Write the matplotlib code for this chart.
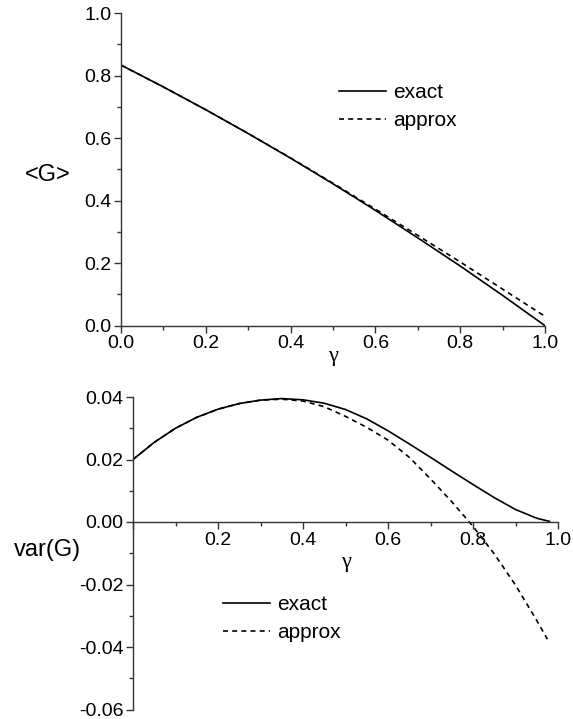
import numpy as np
import matplotlib
matplotlib.use("Agg")
import matplotlib.pyplot as plt
from matplotlib.ticker import MultipleLocator

plt.rcParams["font.family"] = ["Liberation Sans", "DejaVu Sans"]

# top panel: mean of G
gamma_mean = [0.0, 0.1, 0.2, 0.3, 0.4, 0.5, 0.6, 0.7, 0.8, 0.9, 1.0]
mean_exact = [0.834, 0.764, 0.691, 0.615, 0.536, 0.454, 0.369, 0.281, 0.191, 0.097, 0.0]
mean_approx = [0.834, 0.764, 0.691, 0.615, 0.537, 0.456, 0.373, 0.289, 0.204, 0.117, 0.030]

# bottom panel: variance of G
gamma_exact = [0.0, 0.05, 0.10, 0.15, 0.20, 0.25, 0.30, 0.35, 0.40, 0.45, 0.50,
               0.55, 0.60, 0.65, 0.70, 0.75, 0.80, 0.85, 0.90, 0.95, 0.98]
var_exact = [0.0200, 0.0255, 0.0300, 0.0335, 0.0361, 0.0379, 0.0390, 0.0395, 0.0391, 0.0380, 0.0360,
             0.0330, 0.0292, 0.0250, 0.0207, 0.0163, 0.0120, 0.0078, 0.0040, 0.0012, 0.0002]
gamma_approx = [0.0, 0.05, 0.10, 0.15, 0.20, 0.25, 0.30, 0.35, 0.40, 0.45, 0.50,
                0.55, 0.60, 0.65, 0.70, 0.75, 0.80, 0.85, 0.90, 0.95, 0.975]
var_approx = [0.0200, 0.0255, 0.0300, 0.0335, 0.0361, 0.0379, 0.0390, 0.0393, 0.0387, 0.0369, 0.0338,
              0.0303, 0.0262, 0.0207, 0.0138, 0.0065, -0.0014, -0.0102, -0.0202, -0.0315, -0.0375]

W, H = 573, 719
fig = plt.figure(figsize=(W / 100, H / 100), dpi=100)

spine_col = "#333333"
dash = (0, (3, 2.5))
serif = ["Liberation Serif", "DejaVu Serif"]


def style_axes(ax):
    for s in ["top", "right"]:
        ax.spines[s].set_visible(False)
    for s in ["left", "bottom"]:
        ax.spines[s].set_color(spine_col)
        ax.spines[s].set_linewidth(1.0)
    ax.tick_params(which="both", direction="out", colors=spine_col, labelcolor="black",
                   labelsize=14, width=1.0)
    ax.tick_params(which="major", length=5, pad=2)
    ax.tick_params(which="minor", length=3)


def add_legend(ax, x, y):
    ax.legend(loc="upper left", bbox_to_anchor=(x / W, 1 - y / H), bbox_transform=fig.transFigure,
              frameon=False, fontsize=15, handlelength=2.25, handletextpad=0.35,
              labelspacing=0.45, borderpad=0, borderaxespad=0)


# top axes
ax1 = fig.add_axes([121 / W, 1 - 325.7 / H, 424 / W, 312.5 / H])
ax1.plot(gamma_mean, mean_exact, color="black", lw=1.2, label="exact")
ax1.plot(gamma_mean, mean_approx, color="black", lw=1.2, ls=dash, label="approx")
ax1.set_xlim(0, 1)
ax1.set_ylim(0, 1)
ax1.xaxis.set_major_locator(MultipleLocator(0.2))
ax1.xaxis.set_minor_locator(MultipleLocator(0.1))
ax1.yaxis.set_major_locator(MultipleLocator(0.2))
ax1.yaxis.set_minor_locator(MultipleLocator(0.1))
ax1.xaxis.set_major_formatter(lambda v, p: f"{v:.1f}")
ax1.yaxis.set_major_formatter(lambda v, p: f"{v:.1f}")
style_axes(ax1)
ax1.set_xlabel("γ", family=serif, fontsize=16, labelpad=-4)
ax1.set_ylabel("<G>", fontsize=17, rotation=0, va="center", ha="center")
ax1.yaxis.set_label_coords(-0.172, 0.482)
add_legend(ax1, 339, 83)

# bottom axes
ax2 = fig.add_axes([133 / W, 1 - 709.5 / H, 425 / W, 312.5 / H])
ax2.plot(gamma_exact, var_exact, color="black", lw=1.2, label="exact")
ax2.plot(gamma_approx, var_approx, color="black", lw=1.2, ls=dash, label="approx")
ax2.set_xlim(0, 1)
ax2.set_ylim(-0.06, 0.04)
ax2.spines["bottom"].set_position(("data", 0))
ax2.xaxis.set_major_locator(MultipleLocator(0.2))
ax2.xaxis.set_minor_locator(MultipleLocator(0.1))
ax2.yaxis.set_major_locator(MultipleLocator(0.02))
ax2.yaxis.set_minor_locator(MultipleLocator(0.01))
ax2.xaxis.set_major_formatter(lambda v, p: "" if abs(v) < 1e-9 else f"{v:.1f}")
ax2.yaxis.set_major_formatter(lambda v, p: f"{v:.2f}")
style_axes(ax2)
ax2.set_xlabel("γ", family=serif, fontsize=16, labelpad=3)
ax2.set_ylabel("var(G)", fontsize=17, rotation=0, va="center", ha="center")
ax2.yaxis.set_label_coords(-0.202, 0.51)
add_legend(ax2, 223, 595)

fig.savefig("out.png", dpi=100)
